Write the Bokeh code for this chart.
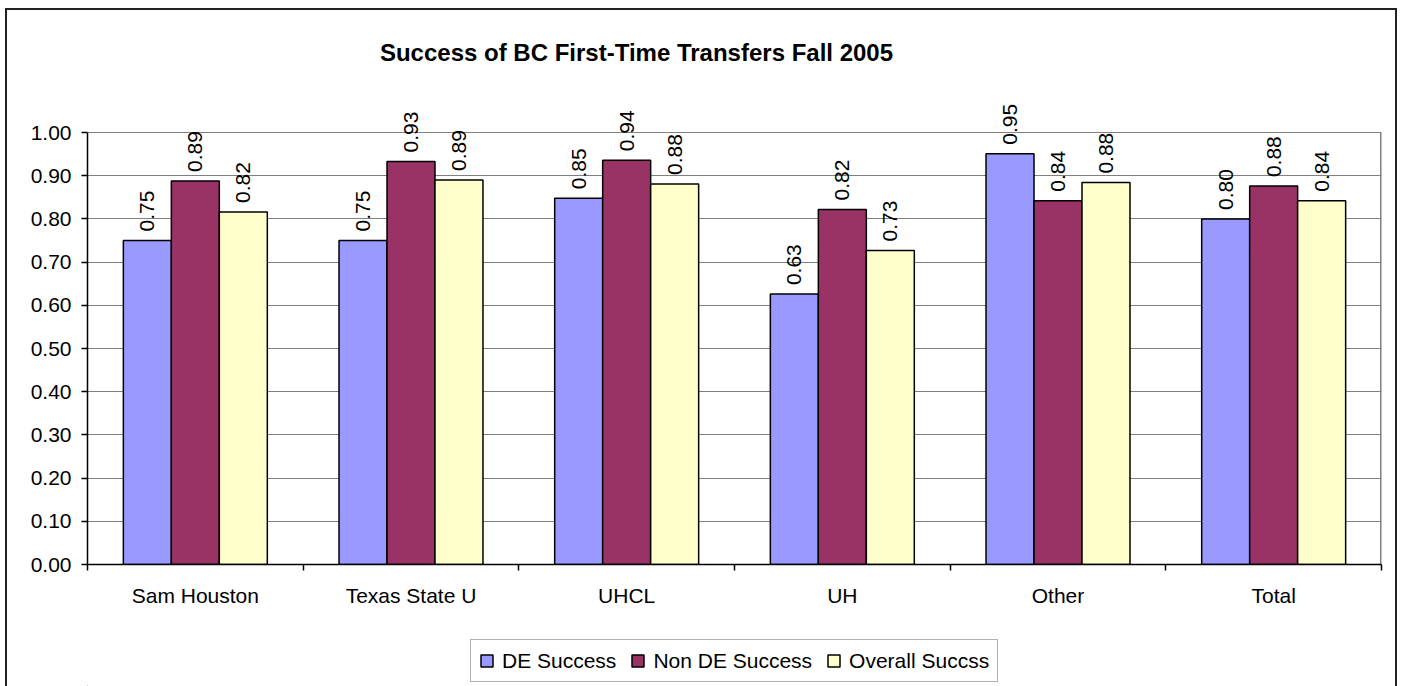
from bokeh.plotting import figure
from bokeh.layouts import column
from bokeh.models import (ColumnDataSource, FixedTicker, NumeralTickFormatter, LabelSet,
                          Label, Range1d, InlineStyleSheet)
from bokeh.core.properties import value
from bokeh.embed import file_html
from bokeh.resources import INLINE

# ---- data ----
categories = ["Sam Houston", "Texas State U", "UHCL", "UH", "Other", "Total"]
series_names = ["DE Success", "Non DE Success", "Overall Succss"]
de_success = [0.750, 0.750, 0.848, 0.626, 0.951, 0.800]
non_de_success = [0.888, 0.933, 0.936, 0.822, 0.842, 0.876]
overall_success = [0.816, 0.890, 0.881, 0.727, 0.884, 0.842]
series_colors = ["#9999FF", "#993366", "#FFFFCC"]
y_ticks = [0.0, 0.1, 0.2, 0.3, 0.4, 0.5, 0.6, 0.7, 0.8, 0.9, 1.0]
title_text = "Success of BC First-Time Transfers Fall 2005"

FONT = "Liberation Sans"
n = len(categories)
bar_w = 0.2225
frame_h = 544          # pixels of the frame (it reaches up to hold title & labels)
unit_h = 432           # pixels for y from 0 to 1
y_top = frame_h / unit_h

p = figure(width=1388, height=620, output_backend="svg", toolbar_location=None,
           x_range=Range1d(0, n), y_range=Range1d(0, y_top),
           min_border_left=80, min_border_right=14, min_border_top=10, min_border_bottom=66)
p.background_fill_color = "white"
p.border_fill_color = "white"
p.outline_line_color = None

centers = [i + 0.5 for i in range(n)]
series = [de_success, non_de_success, overall_success]
offsets = [-bar_w, 0.0, bar_w]
for vals, name, col, off in zip(series, series_names, series_colors, offsets):
    src = ColumnDataSource(dict(x=[c + off for c in centers], top=vals,
                                label=[f"{v:.2f}" for v in vals]))
    p.vbar(x="x", top="top", width=bar_w, bottom=0, source=src, fill_color=col,
           line_color="black", line_width=1.5)
    p.add_layout(LabelSet(x="x", y="top", text="label", source=src, angle=90, angle_units="deg",
                          text_align="left", text_baseline="middle", y_offset=9, x_offset=0,
                          text_font=value(FONT), text_font_size=value("21px"),
                          text_color=value("black")))

# right edge of the plot area (grey), from 0 to 1
p.segment(x0=[n], y0=[0], x1=[n], y1=[1.0], line_color="#808080", line_width=3)

# axes
p.xgrid.visible = False
p.ygrid.grid_line_color = "#808080"
p.ygrid.grid_line_width = 1.2
p.ygrid.ticker = FixedTicker(ticks=y_ticks)

yax = p.yaxis[0]
yax.ticker = FixedTicker(ticks=y_ticks)
yax.bounds = (0, 1.0)
yax.formatter = NumeralTickFormatter(format="0.00")
yax.major_tick_in = 0
yax.major_tick_out = 6
yax.minor_tick_line_color = None
yax.major_label_standoff = 10
yax.axis_line_color = "black"
yax.axis_line_width = 1.5
yax.major_tick_line_width = 1.5
yax.major_label_text_font = FONT
yax.major_label_text_font_size = "21px"
yax.major_label_text_color = "black"

xax = p.xaxis[0]
xax.ticker = FixedTicker(ticks=centers, minor_ticks=[float(i) for i in range(n + 1)])
xax.major_label_overrides = {c: cat for c, cat in zip(centers, categories)}
xax.major_tick_line_color = None
xax.minor_tick_in = 0
xax.minor_tick_out = 6
xax.minor_tick_line_color = "black"
xax.minor_tick_line_width = 1.5
xax.major_tick_out = 6
xax.major_tick_in = 0
xax.major_label_standoff = 13
xax.axis_line_color = "black"
xax.axis_line_width = 1.5
xax.major_label_text_font = FONT
xax.major_label_text_font_size = "21px"
xax.major_label_text_color = "black"

# title (inside the tall frame)
p.add_layout(Label(x=549, y=512, x_units="screen", y_units="screen", text=title_text,
                   text_align="center", text_baseline="alphabetic", text_font=FONT,
                   text_font_size="24px", text_font_style="bold", text_color="black"))

# ---- legend strip below the chart ----
p2 = figure(width=1388, height=56, output_backend="svg", toolbar_location=None,
            x_range=Range1d(1, 2), y_range=Range1d(1, 2),
            x_axis_location=None, y_axis_location=None,
            min_border_left=0, min_border_right=0, min_border_top=0, min_border_bottom=0)
p2.grid.visible = False
p2.outline_line_color = None
p2.background_fill_color = "white"
p2.border_fill_color = "white"
for name, col in zip(series_names, series_colors):
    # legend key proxies: a single zero-height bar outside the strip's visible range
    p2.vbar(x=[0], top=[0], bottom=[0], width=0, fill_color=col, line_color="black",
            line_width=1.5, legend_label=name)
lg = p2.legend[0]
lg.orientation = "horizontal"
lg.location = (383, 4)
lg.border_line_color = "#666666"
lg.border_line_width = 1.5
lg.background_fill_color = "white"
lg.padding = 8
lg.margin = 0
lg.spacing = 14
lg.glyph_width = 15
lg.glyph_height = 15
lg.label_height = 25
lg.label_standoff = 8
lg.label_text_font = FONT
lg.label_text_font_size = "21px"
lg.label_text_color = "black"
lg.label_text_baseline = "middle"

layout = column(p, p2, spacing=0)
layout.stylesheets = [InlineStyleSheet(css=(
    ":host { box-sizing: content-box; margin: 8px 0 0 5px; "
    "border: 2px solid #222; border-bottom: none; }"))]

open("out.html", "w").write(file_html(layout, INLINE))
